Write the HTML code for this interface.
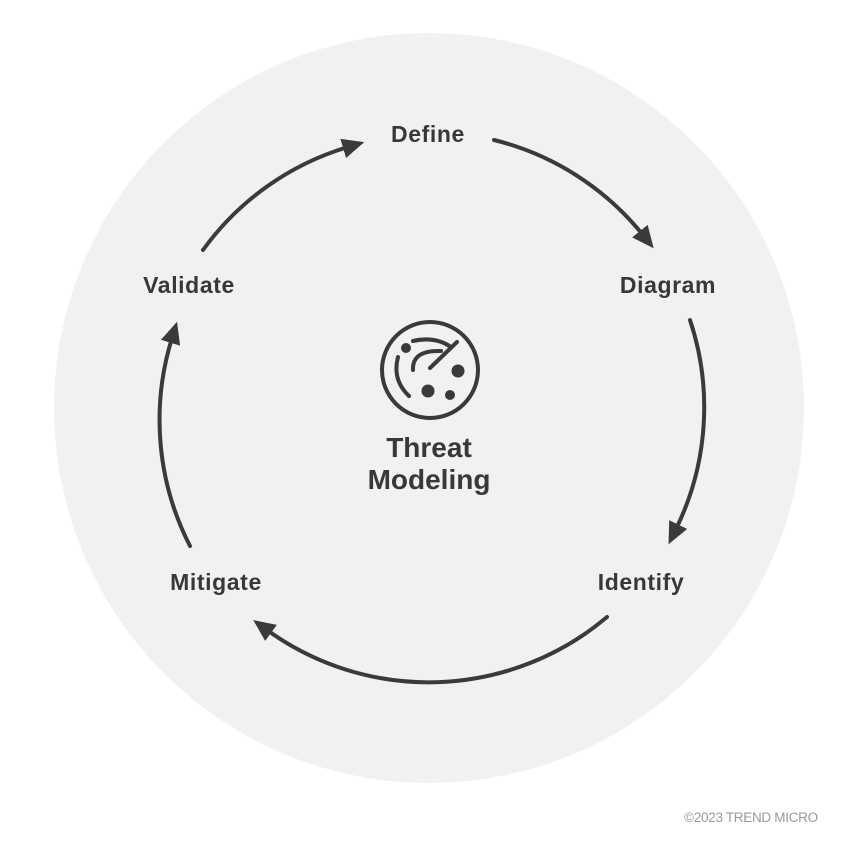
<!DOCTYPE html>
<html><head><meta charset="utf-8"><style>
html,body{margin:0;padding:0;background:#fff;}
svg{display:block}
text{font-family:"Liberation Sans",Arial,sans-serif;font-weight:bold;fill:#383838}
</style></head><body>
<svg width="854" height="853" viewBox="0 0 854 853" xmlns="http://www.w3.org/2000/svg">
<defs>
<marker id="ah" markerUnits="userSpaceOnUse" markerWidth="28" markerHeight="24" refX="5" refY="10" orient="auto">
<path d="M0,0 L22,10 L0,20 Z" fill="#3a3a3a"/>
</marker>
</defs>
<rect width="854" height="853" fill="#fff"/>
<circle cx="429" cy="408" r="375" fill="#f1f1f1"/>
<g fill="none" stroke="#3a3a3a" stroke-width="4" stroke-linecap="round">
<path d="M203,250 A276,276 0 0 1 348,147" marker-end="url(#ah)"/>
<path d="M494,140 A276,276 0 0 1 643,235" marker-end="url(#ah)"/>
<path d="M690,320 A276,276 0 0 1 676,529" marker-end="url(#ah)"/>
<path d="M607,617 A276,276 0 0 1 267,630" marker-end="url(#ah)"/>
<path d="M190,546 A276,276 0 0 1 172,338" marker-end="url(#ah)"/>
</g>
<g fill="none" stroke="#3a3a3a" stroke-width="4" stroke-linecap="round">
<circle cx="430" cy="370" r="48"/>
<path d="M413,341 Q435,336 451,347"/>
<path d="M398,357 Q392,380 409,396"/>
<path d="M413,370 Q412,350 441,351"/>
<path d="M430,368 L457,342"/>
</g>
<g fill="#3a3a3a">
<circle cx="406" cy="348" r="5"/>
<circle cx="458" cy="371" r="6.5"/>
<circle cx="428" cy="391" r="6.5"/>
<circle cx="450" cy="395" r="5"/>
</g>
<g font-size="23" text-anchor="middle">
<text x="428" y="142" letter-spacing="0.6">Define</text>
<text x="668" y="293" letter-spacing="0.6">Diagram</text>
<text x="641" y="590" letter-spacing="0.6">Identify</text>
<text x="216" y="590" letter-spacing="0.6">Mitigate</text>
<text x="189" y="293" letter-spacing="0.6">Validate</text>
</g>
<g font-size="28" text-anchor="middle">
<text x="429" y="457">Threat</text>
<text x="429" y="489">Modeling</text>
</g>
<text x="751" y="822" font-size="13.5" text-anchor="middle" letter-spacing="-0.3" style="font-weight:normal;fill:#9a9a9a">©2023 TREND MICRO</text>
</svg>
</body></html>
